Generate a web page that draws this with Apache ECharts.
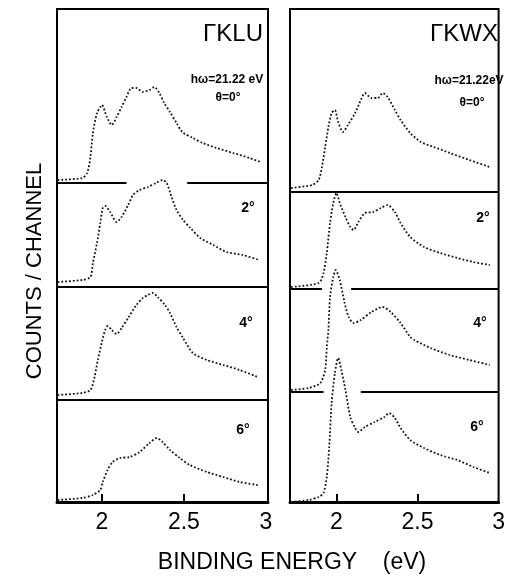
<!DOCTYPE html>
<html>
<head>
<meta charset="utf-8">
<script src="https://cdn.jsdelivr.net/npm/echarts@6/dist/echarts.min.js"></script>
<style>
  html, body { margin: 0; padding: 0; background: #fff; }
  #chart { width: 508px; height: 576px; }
</style>
</head>
<body>
<div id="chart"></div>
<script>
// Angle-resolved photoemission spectra along two azimuths.
// Each spectrum: [binding energy (eV), counts/channel (arb. units)].
const ANGLES = ['θ=0°', '2°', '4°', '6°'];

const KLU_0 = [[1.73,3],[1.88,5],[1.91,10],[1.93,26],[1.945,50],[1.97,70],[1.99,76],[2.0,78],[2.03,66],[2.06,58],[2.09,66],[2.12,76],[2.15,86],[2.18,95],[2.21,95],[2.25,91],[2.29,93],[2.32,96],[2.35,90],[2.38,80],[2.415,71],[2.455,60],[2.49,51],[2.555,45],[2.615,40],[2.70,35],[2.80,30],[2.90,25],[2.97,21]];
const KLU_2 = [[1.73,5],[1.88,7],[1.93,10],[1.945,24],[1.97,44],[1.99,64],[2.005,79],[2.02,81],[2.05,75],[2.09,65],[2.12,70],[2.16,82],[2.19,92],[2.23,97],[2.28,100],[2.33,104],[2.37,107],[2.395,104],[2.425,90],[2.455,77],[2.495,67],[2.54,59],[2.60,49],[2.68,42],[2.76,35],[2.86,32],[2.96,27]];
const KLU_4 = [[1.73,5],[1.88,7],[1.93,10],[1.955,23],[1.975,40],[2.0,58],[2.02,70],[2.035,74],[2.06,70],[2.09,66],[2.12,72],[2.16,82],[2.21,95],[2.25,102],[2.28,105],[2.31,107],[2.34,103],[2.385,95],[2.415,87],[2.455,73],[2.495,62],[2.555,47],[2.64,40],[2.74,35],[2.84,30],[2.95,23]];
const KLU_6 = [[1.73,2],[1.88,4],[1.945,7],[1.99,12],[2.005,20],[2.035,32],[2.065,40],[2.11,44],[2.17,45],[2.23,50],[2.29,59],[2.335,64],[2.37,60],[2.415,52],[2.475,44],[2.535,37],[2.64,30],[2.74,25],[2.84,20],[2.95,17]];

const KWX_0 = [[1.72,4],[1.85,7],[1.89,12],[1.91,25],[1.93,45],[1.95,65],[1.97,79],[1.99,82],[2.01,70],[2.04,60],[2.07,67],[2.115,79],[2.15,92],[2.175,99],[2.215,94],[2.255,94],[2.285,99],[2.315,95],[2.36,82],[2.395,72],[2.455,59],[2.52,50],[2.60,45],[2.70,39],[2.82,32],[2.945,25]];
const KWX_2 = [[1.72,2],[1.89,6],[1.92,16],[1.94,36],[1.96,66],[1.98,86],[2.0,96],[2.02,86],[2.055,72],[2.085,62],[2.105,59],[2.135,67],[2.175,76],[2.225,77],[2.275,81],[2.315,84],[2.36,77],[2.395,66],[2.455,52],[2.54,42],[2.64,36],[2.745,31],[2.845,27],[2.945,24]];
const KWX_4 = [[1.72,2],[1.83,4],[1.90,9],[1.93,22],[1.94,45],[1.95,62],[1.96,95],[1.98,115],[1.995,122],[2.02,112],[2.05,89],[2.075,75],[2.105,69],[2.15,72],[2.215,80],[2.285,85],[2.335,80],[2.395,69],[2.455,55],[2.48,52],[2.58,44],[2.70,37],[2.82,32],[2.945,27]];
const KWX_6 = [[1.72,0],[1.83,2],[1.89,5],[1.92,9],[1.94,25],[1.955,55],[1.97,99],[1.99,129],[2.01,144],[2.03,132],[2.055,112],[2.085,85],[2.115,74],[2.135,70],[2.175,75],[2.235,80],[2.295,85],[2.325,89],[2.36,84],[2.395,74],[2.455,62],[2.54,54],[2.64,47],[2.745,42],[2.845,35],[2.945,29]];

// vertical offset of each stacked spectrum (counts units)
const KLU_OFFSET = [319, 215, 102, 0];
const KWX_OFFSET = [310, 213, 110, 0];
// breaks in the separator lines where the spectrum below rises through them
const KLU_GAPS = [[2.15, 2.52], null, null];
const KWX_GAPS = [null, [1.91, 2.09], [1.92, 2.15]];

const X_TICKS = [2, 2.5];
const X_LABELS = [2, 2.5, 3];

const PANELS = [
  { name: 'ΓKLU', spectra: [KLU_0, KLU_2, KLU_4, KLU_6], offset: KLU_OFFSET, gaps: KLU_GAPS, min: 1.726, max: 3.013, photon: 'hω=21.22 eV' },
  { name: 'ΓKWX', spectra: [KWX_0, KWX_2, KWX_4, KWX_6], offset: KWX_OFFSET, gaps: KWX_GAPS, min: 1.713, max: 3.0, photon: 'hω=21.22eV' }
];

const FONT = '"Liberation Sans", Arial, Helvetica, sans-serif';
const Y_MAX = 493;

const grids = [
  { left: 57, top: 9, width: 211, height: 493 },
  { left: 290, top: 9, width: 211, height: 493 }
].map(g => Object.assign(g, { show: true, borderColor: '#000', borderWidth: 2, backgroundColor: 'transparent' }));

const xAxes = PANELS.map((p, i) => ({
  type: 'value', gridIndex: i, min: p.min, max: p.max,
  axisLine: { show: true, onZero: false, lineStyle: { color: '#000', width: 3 } },
  axisTick: { show: true, inside: true, length: 8, customValues: X_TICKS, lineStyle: { color: '#000', width: 2 } },
  axisLabel: { customValues: X_LABELS, color: '#000', fontSize: 23, fontFamily: FONT, margin: 9 },
  splitLine: { show: false }
}));

const yAxes = PANELS.map((p, i) => ({
  type: 'value', gridIndex: i, min: 0, max: Y_MAX, show: false
}));

const series = [];
PANELS.forEach((p, pi) => {
  p.spectra.forEach((spec, si) => {
    series.push({
      type: 'line', xAxisIndex: pi, yAxisIndex: pi,
      data: spec.map(([e, c]) => [e, c + p.offset[si]]),
      showSymbol: false, smooth: 0.25, silent: true,
      lineStyle: { color: '#161616', width: 1.8, type: [1.8, 2.0] }
    });
  });
  // separator lines between stacked spectra
  p.gaps.forEach((gap, gi) => {
    const y = p.offset[gi];
    const segs = gap ? [[p.min, gap[0]], [gap[1], p.max]] : [[p.min, p.max]];
    segs.forEach(([a, b]) => {
      series.push({
        type: 'line', xAxisIndex: pi, yAxisIndex: pi,
        data: [[a, y], [b, y]], showSymbol: false, silent: true,
        lineStyle: { color: '#000', width: 2 }
      });
    });
  });
});

function txt(text, x, y, font, align, extra) {
  return Object.assign({
    type: 'text', silent: true,
    style: { text, x, y, font, fill: '#000', align: align || 'center', verticalAlign: 'middle' }
  }, extra || {});
}

const graphics = [
  txt(PANELS[0].name, 263, 34, '24px ' + FONT, 'right'),
  txt(PANELS[1].name, 498, 34, '24px ' + FONT, 'right'),
  txt(PANELS[0].photon, 227, 80, 'bold 12px ' + FONT),
  txt(PANELS[1].photon, 469, 81, 'bold 12px ' + FONT),
  txt(ANGLES[0], 228, 98, 'bold 12px ' + FONT),
  txt(ANGLES[0], 472, 103, 'bold 12px ' + FONT),
  txt(ANGLES[1], 248, 208, 'bold 14px ' + FONT),
  txt(ANGLES[2], 246, 323, 'bold 14px ' + FONT),
  txt(ANGLES[3], 243, 430, 'bold 14px ' + FONT),
  txt(ANGLES[1], 483, 218, 'bold 14px ' + FONT),
  txt(ANGLES[2], 480, 323, 'bold 14px ' + FONT),
  txt(ANGLES[3], 477, 427, 'bold 14px ' + FONT),
  txt('BINDING ENERGY    (eV)', 292, 563, '23px ' + FONT),
  {
    type: 'text', silent: true, x: 35, y: 271, rotation: Math.PI / 2,
    style: { text: 'COUNTS / CHANNEL', x: 0, y: 0, font: '22px ' + FONT, fill: '#000', align: 'center', verticalAlign: 'middle' }
  }
];

const chart = echarts.init(document.getElementById('chart'), null, { renderer: 'canvas' });
chart.setOption({
  animation: false,
  backgroundColor: '#fff',
  grid: grids,
  xAxis: xAxes,
  yAxis: yAxes,
  series: series,
  graphic: graphics
});
</script>
</body>
</html>
